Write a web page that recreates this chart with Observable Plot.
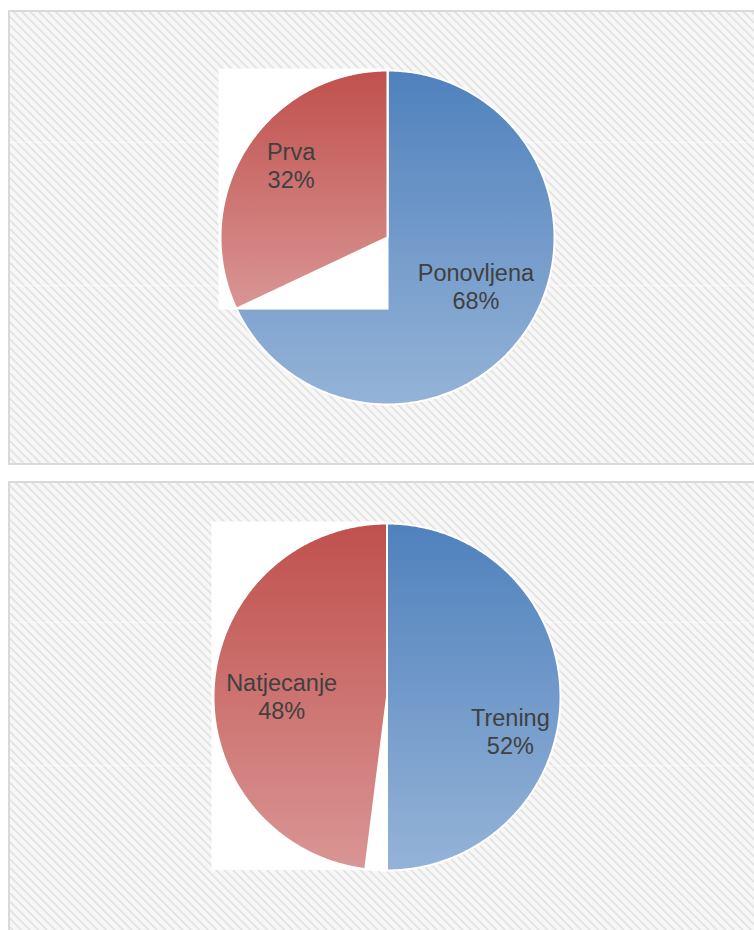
<!DOCTYPE html>
<html>
<head>
<meta charset="utf-8">
<script src="https://cdn.jsdelivr.net/npm/d3@7"></script>
<script src="https://cdn.jsdelivr.net/npm/@observablehq/plot@0.6"></script>
<style>
  html, body { margin: 0; padding: 0; background: #ffffff; }
  #page { position: relative; width: 754px; height: 930px; overflow: hidden; }
  .panel {
    position: absolute; box-sizing: border-box; border: 2px solid #d9d9d9;
    background-color: #eeeeee;
    background-image:
      repeating-linear-gradient(45deg, #f7f7f7 0px, #f7f7f7 2px, #dedede 3.5px, #f7f7f7 5px, #f7f7f7 6px);
  }
  .seam { position: absolute; height: 1px; background: rgba(255,255,255,0.55); }
  .chart { position: absolute; left: 0; }
</style>
</head>
<body>
<div id="page"></div>
<script>
// ---------------- data ----------------
const chart1Categories = ["Ponovljena", "Prva"];
const chart1Values = [68, 32];
const chart2Categories = ["Trening", "Natjecanje"];
const chart2Values = [52, 48];

// ---------------- layout / style ----------------
const FONT = "'Liberation Sans', Arial, sans-serif";
const gradients = {
  blue: ["#4f81bd", "#95b3d7"],
  red: ["#c0504d", "#d99694"]
};
const panels = [
  {
    id: "p1", categories: chart1Categories, values: chart1Values, colors: ["blue", "red"],
    box: {left: 8, top: 10, width: 760, height: 455},
    svgTop: 0, svgHeight: 472,
    cx: 387, cy: 237, r: 167,
    nudges: [[1, -7], [-9, -17]],
    seams: [142, 285]
  },
  {
    id: "p2", categories: chart2Categories, values: chart2Values, colors: ["blue", "red"],
    box: {left: 8, top: 481, width: 760, height: 470},
    svgTop: 472, svgHeight: 458,
    cx: 386.5, cy: 224.5, r: 173.5,
    nudges: [[16, 27], [2, 6]],
    seams: [622, 765]
  }
];
const LABEL_K = 0.62;

function slices(categories, values) {
  const total = d3.sum(values);
  const arcs = d3.pie().sort(null).value(d => d)(values);
  return arcs.map((a, i) => {
    const span = a.endAngle - a.startAngle;
    const n = Math.max(2, Math.ceil(span / (Math.PI / 360)));
    const pts = [{x: 0, y: 0}];
    for (let k = 0; k <= n; k++) {
      const t = a.startAngle + span * k / n;
      pts.push({x: Math.sin(t), y: Math.cos(t)});
    }
    const mid = (a.startAngle + a.endAngle) / 2;
    return {
      category: categories[i],
      value: values[i],
      label: categories[i] + "\n" + Math.round(values[i] / total * 100) + "%",
      points: pts,
      lx: LABEL_K * Math.sin(mid),
      ly: LABEL_K * Math.cos(mid)
    };
  });
}

const page = document.getElementById("page");

for (const p of panels) {
  const div = document.createElement("div");
  div.className = "panel";
  Object.assign(div.style, {
    left: p.box.left + "px", top: p.box.top + "px",
    width: p.box.width + "px", height: p.box.height + "px"
  });
  page.appendChild(div);
  for (const s of p.seams) {
    const line = document.createElement("div");
    line.className = "seam";
    Object.assign(line.style, {left: (p.box.left + 2) + "px", top: s + "px", width: "760px"});
    page.appendChild(line);
  }

  const data = slices(p.categories, p.values);

  const defsMark = () => {
    const defs = d3.create("svg:defs");
    for (const [name, [c0, c1]] of Object.entries(gradients)) {
      const g = defs.append("linearGradient")
        .attr("id", p.id + "-" + name)
        .attr("x1", 0).attr("y1", 0).attr("x2", 0).attr("y2", 1);
      g.append("stop").attr("offset", "0%").attr("stop-color", c0);
      g.append("stop").attr("offset", "100%").attr("stop-color", c1);
    }
    return defs.node();
  };

  const marks = [defsMark];
  data.forEach((d, i) => {
    // Excel artifact: the second slice's bounding box is painted white behind it
    if (i > 0) {
      const ex = d3.extent(d.points, q => q.x);
      const ey = d3.extent(d.points, q => q.y);
      marks.push(Plot.rect([{x1: ex[0], x2: ex[1], y1: ey[0], y2: ey[1]}], {
        x1: "x1", x2: "x2", y1: "y1", y2: "y2", fill: "white", inset: -1.5
      }));
    }
    marks.push(Plot.line(d.points, {
      x: "x", y: "y", curve: "linear-closed",
      fill: `url(#${p.id}-${p.colors[i]})`,
      stroke: "white", strokeWidth: 2
    }));
  });
  data.forEach((d, i) => {
    marks.push(Plot.text([d], {
      x: "lx", y: "ly", text: "label",
      fontSize: 23.5, fill: "#404040", lineHeight: 1.2,
      textAnchor: "middle", lineAnchor: "middle",
      dx: p.nudges[i][0], dy: p.nudges[i][1]
    }));
  });

  const svg = Plot.plot({
    width: 754,
    height: p.svgHeight,
    margin: 0,
    x: {domain: [-1, 1], range: [p.cx - p.r, p.cx + p.r], axis: null},
    y: {domain: [-1, 1], range: [p.cy + p.r, p.cy - p.r], axis: null},
    style: {background: "transparent", fontFamily: FONT, overflow: "visible"},
    marks
  });
  svg.classList.add("chart");
  svg.style.top = p.svgTop + "px";
  svg.style.maxWidth = "none";
  page.appendChild(svg);
}
</script>
</body>
</html>
